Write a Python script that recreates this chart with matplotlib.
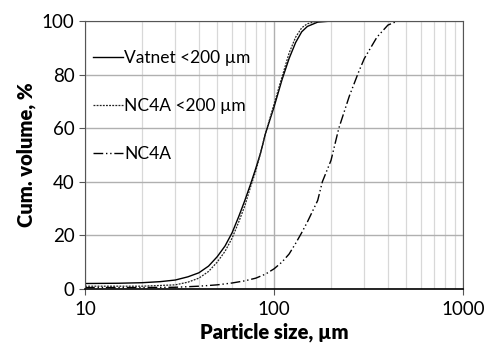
import matplotlib.pyplot as plt
from matplotlib.ticker import FixedLocator, NullFormatter

plt.rcParams['font.family'] = ['Lato', 'DejaVu Sans']

# particle size (um) and cumulative volume (%)
vatnet_size = [10, 15, 20, 25, 30, 35, 40, 45, 50, 55, 60, 65, 70, 75, 80, 85, 90,
               100, 110, 120, 130, 140, 150, 170, 200, 1000]
vatnet_cum = [2.0, 2.1, 2.3, 2.7, 3.3, 4.5, 6.0, 8.5, 12, 16, 21, 27, 33, 39, 45, 51, 58,
              68, 78, 86, 92, 96, 98, 99.6, 100, 100]

nc4a_fine_size = [10, 20, 30, 35, 40, 45, 50, 55, 60, 65, 70, 75, 80, 85, 90,
                  100, 110, 120, 130, 140, 150, 170, 1000]
nc4a_fine_cum = [1.0, 1.0, 1.5, 2.5, 4.0, 6.5, 10, 14, 19, 25, 31, 38, 44, 51, 58,
                 69, 79, 88, 94, 97.5, 99, 100, 100]

nc4a_size = [10, 20, 30, 40, 50, 60, 70, 80, 90, 100, 110, 120, 130, 140, 150, 170,
             180, 200, 220, 250, 280, 300, 350, 400, 450, 1000]
nc4a_cum = [0.5, 0.5, 0.6, 1.0, 1.5, 2.2, 3.0, 4.0, 5.5, 7.5, 10, 13, 17, 21, 25, 33,
            40, 48, 60, 72, 81, 86, 94, 98.5, 100, 100]

fig = plt.figure(figsize=(4.86, 3.51), dpi=100)
ax = fig.add_axes([0.175, 0.177, 0.778, 0.763])

ax.plot(vatnet_size, vatnet_cum, color='black', lw=1.0, label='Vatnet <200 \u00b5m')
ax.plot(nc4a_fine_size, nc4a_fine_cum, color='#222222', lw=0.9, linestyle=(0, (1.5, 1)),
        label='NC4A <200 \u00b5m')
ax.plot(nc4a_size, nc4a_cum, color='black', lw=1.0, linestyle=(0, (7, 2, 1, 2, 1, 2)),
        label='NC4A')

ax.set_xscale('log')
ax.set_xlim(10, 1000)
ax.set_ylim(0, 100)
ax.set_yticks([0, 20, 40, 60, 80, 100])
ax.xaxis.set_major_locator(FixedLocator([10, 100, 1000]))
ax.xaxis.set_minor_locator(FixedLocator([k * 10 ** d for d in (1, 2) for k in range(2, 10)]))
ax.xaxis.set_minor_formatter(NullFormatter())
ax.set_xticklabels(['10', '100', '1000'])

ax.grid(True, which='major', color='#b0b0b0', lw=1.0)
ax.grid(True, which='minor', axis='x', color='#d8d8d8', lw=0.9)
ax.set_axisbelow(True)

ax.tick_params(axis='both', which='major', labelsize=13.5, direction='out', length=4,
               color='#555555')
ax.tick_params(axis='x', which='minor', length=0)
ax.tick_params(axis='x', which='major', pad=5)
for side in ('left', 'right', 'top'):
    ax.spines[side].set_color('#555555')
ax.spines['bottom'].set_color('black')
ax.spines['bottom'].set_linewidth(1.2)

ax.set_xlabel('Particle size, \u00b5m', fontsize=14.5, fontweight='heavy', labelpad=3)
ax.set_ylabel('Cum. volume, %', fontsize=14.5, fontweight='heavy', labelpad=4)

ax.legend(loc='center left', bbox_to_anchor=(0.021, 0.683), frameon=False, fontsize=12.5,
          handlelength=1.7, handletextpad=0.1, labelspacing=1.85, borderaxespad=0,
          borderpad=0)

fig.savefig('out.png', dpi=100)
